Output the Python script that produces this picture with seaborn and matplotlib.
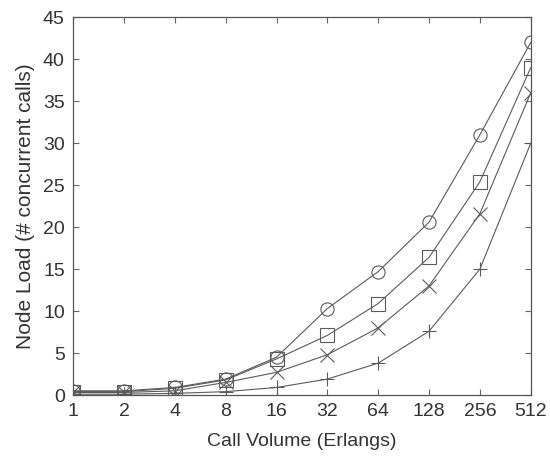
import pandas as pd
import numpy as np
import matplotlib
matplotlib.use('Agg')
import matplotlib.pyplot as plt
import seaborn as sns

volume = [1, 2, 4, 8, 16, 32, 64, 128, 256, 512]
load_circle = [0.5, 0.5, 0.9, 1.9, 4.5, 10.3, 14.7, 20.6, 31.0, 42.0]
load_square = [0.4, 0.4, 0.8, 1.8, 4.3, 7.1, 10.9, 16.4, 25.4, 39.0]
load_x = [0.3, 0.3, 0.5, 1.5, 2.7, 4.8, 8.0, 13.0, 21.6, 36.0]
load_plus = [0.1, 0.1, 0.2, 0.4, 0.9, 1.9, 3.8, 7.6, 15.0, 30.0]

sns.set_style('ticks')
plt.rcParams['font.family'] = ['Liberation Sans', 'DejaVu Sans']

fig = plt.figure(figsize=(5.5, 4.65), dpi=100)
ax = fig.add_axes([0.133, 0.1505, 0.832, 0.8125])

series = [(load_circle, 'o'), (load_square, 's'), (load_x, 'x'), (load_plus, '+')]
for vals, mk in series:
    sns.lineplot(x=volume, y=vals, ax=ax, color='#5a5a5a', linewidth=0.8,
                 marker=mk, markersize=9.5, markerfacecolor='none',
                 markeredgecolor='#5a5a5a', markeredgewidth=0.8)

ax.set_xscale('log', base=2)
ax.set_xlim(1, 512)
ax.set_ylim(0, 45)
ax.set_xticks(volume)
ax.set_xticklabels([str(v) for v in volume])
ax.minorticks_off()
ax.set_yticks(range(0, 46, 5))

ax.tick_params(direction='in', top=True, right=True, length=4, width=0.8,
               color='#666666', labelsize=14, labelcolor='#333333', pad=6)
for s in ax.spines.values():
    s.set_color('#555555')
    s.set_linewidth(0.9)

ax.set_xlabel('Call Volume (Erlangs)', fontsize=14, color='#333333', labelpad=9)
ax.set_ylabel('Node Load (# concurrent calls)', fontsize=15, color='#333333', labelpad=6)

fig.savefig('out.png', dpi=100)
